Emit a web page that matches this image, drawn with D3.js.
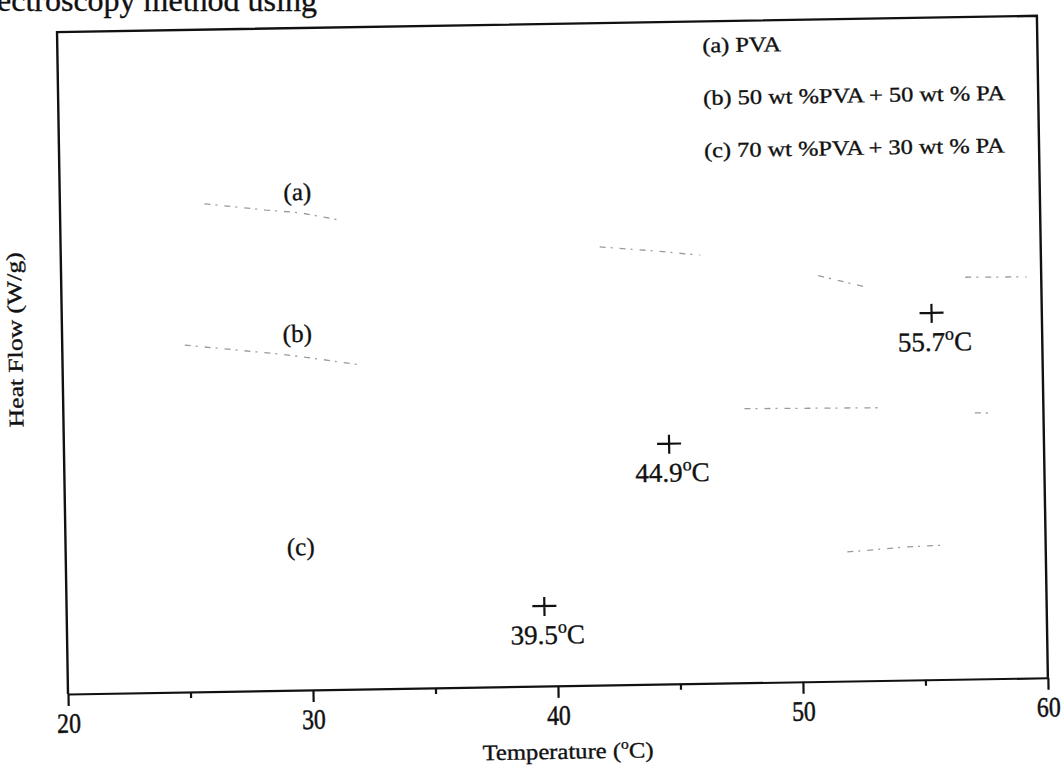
<!doctype html>
<html>
<head>
<meta charset="utf-8">
<style>
    body { margin: 0; background: #fff; }
    svg { display: block; font-family: "Liberation Serif", "DejaVu Serif", serif; }
    .frame { fill: none; stroke: #111; stroke-width: 2.4; }
    .axis path, .axis line { stroke: #111; stroke-width: 2.2; }
    .axis text { fill: #111; stroke: #111; stroke-width: 0.5; font-family: "Liberation Serif", serif; font-size: 28px; }
    .ink { fill: #111; stroke: #111; stroke-width: 0.35; }
    .curve { fill: none; stroke: #9a9a9a; stroke-width: 1.3; stroke-dasharray: 6 5 2 7; }
    .mark { fill: none; stroke: #111; stroke-width: 2.2; }
</style>
<script src="https://cdn.jsdelivr.net/npm/d3@7"></script>
</head>
<body>
<svg width="1061" height="766"></svg>
<script>

// temperature axis
var majorTicks = [20, 30, 40, 50, 60];
var minorTicks = [25, 35, 45, 55];

// DSC traces as far as they survive in the scan (null = faded gap)
var tempA = [25.9, 28.4, 29.8, 31.4, 36.0, 42.0, 44.1, 46.1, 48.5, 50.9, 52.8, 54.8, 56.9, 59.4];
var flowA = [7.37, 7.26, 7.21, 7.09, null, 6.62, 6.55, 6.47, null, 6.13, 5.95, null, 6.07, 6.06];
var tempB = [25.0, 28.9, 30.4, 32.1, 40.0, 47.8, 50.5, 53.5, 55.5, 57.2, 58.0];
var flowB = [5.24, 5.08, 5.00, 4.90, null, 4.14, 4.13, 4.12, null, 4.02, 4.01];
var tempC = [48.1, 50.0, 51.9, 54.3, 55.9, 57.5, 58.8];
var flowC = [1.91, null, 1.95, 2.01, 2.03, null, 1.95];

// curve tags
var curveTags = ["(a)", "(b)", "(c)"];
var tagTemp = [29.7, 29.6, 29.6];
var tagFlow = [7.40, 5.26, 2.04];

// peak markers
var peakTemp = [55.5, 44.7, 39.5];
var peakFlow = [5.54, 3.63, 1.21];
var peakLabel = ["55.7", "44.9", "39.5"];

// legend
var legendItems = ["(a) PVA", "(b) 50 wt %PVA + 50 wt % PA", "(c) 70 wt %PVA + 30 wt % PA"];

var svg = d3.select("svg");

// cut-off line of page text above the figure
svg.append("text")
   .attr("class", "ink")
   .attr("x", -3)
   .attr("y", 11)
   .attr("font-size", "32px")
   .text("ectroscopy method using");

var width = 980,
    height = 662;

// the scanned page is slightly tilted
var g = svg.append("g")
           .attr("transform", "translate(68,694) rotate(-0.95)");

var x = d3.scaleLinear().domain([20, 60]).range([0, width]);
var y = d3.scaleLinear().domain([0, 10]).range([0, -height]);

// box (left, top, right)
g.append("path")
 .attr("class", "frame")
 .attr("d", "M0,0V" + (-height) + "H" + width + "V0");

// bottom axis, major + minor ticks
g.append("g")
 .attr("class", "axis")
 .call(d3.axisBottom(x).tickValues(majorTicks).tickSize(12).tickSizeOuter(0).tickPadding(7).tickFormat(d3.format("d")))
 .selectAll("text")
 .attr("transform", "scale(0.85,1)");

g.append("g")
 .attr("class", "axis")
 .call(d3.axisBottom(x).tickValues(minorTicks).tickSize(6).tickSizeOuter(0).tickFormat(""))
 .select(".domain").remove();

// axis titles
var xt = g.append("text")
          .attr("class", "ink")
          .attr("transform", "translate(499,73) scale(1.12,1)")
          .attr("text-anchor", "middle")
          .attr("font-size", "22px");
xt.append("tspan").text("Temperature (");
xt.append("tspan").attr("font-size", "14px").attr("dy", -9).text("o");
xt.append("tspan").attr("dy", 9).text("C)");

g.append("text")
 .attr("class", "ink")
 .attr("transform", "translate(-40,-355) rotate(-90) scale(1.22,1)")
 .attr("text-anchor", "middle")
 .attr("font-size", "21px")
 .text("Heat Flow (W/g)");

// faint traces
var line = d3.line()
             .defined(function(d) { return d[1] != null; })
             .x(function(d) { return x(d[0]); })
             .y(function(d) { return y(d[1]); });

[[tempA, flowA], [tempB, flowB], [tempC, flowC]].forEach(function(s) {
    g.append("path")
     .attr("class", "curve")
     .attr("d", line(d3.zip(s[0], s[1])));
});

// curve tags
g.selectAll(".tag")
 .data(curveTags)
 .enter().append("text")
 .attr("class", "tag ink")
 .attr("x", function(d, i) { return x(tagTemp[i]); })
 .attr("y", function(d, i) { return y(tagFlow[i]); })
 .attr("text-anchor", "middle")
 .attr("font-size", "25px")
 .text(function(d) { return d; });

// peak crosses and labels
var peaks = g.selectAll(".peak")
             .data(peakLabel)
             .enter().append("g")
             .attr("class", "peak")
             .attr("transform", function(d, i) { return "translate(" + x(peakTemp[i]) + "," + y(peakFlow[i]) + ")"; });

peaks.append("path")
     .attr("class", "mark")
     .attr("d", "M-12,0H12M0,-9V10");

var pl = peaks.append("text")
              .attr("class", "ink")
              .attr("y", 38)
              .attr("x", 3)
              .attr("text-anchor", "middle")
              .attr("font-size", "27px");
pl.append("tspan").text(function(d) { return d; });
pl.append("tspan").attr("font-size", "18px").attr("dy", -11).text("o");
pl.append("tspan").attr("dy", 11).text("C");

// legend
g.selectAll(".legend")
 .data(legendItems)
 .enter().append("text")
 .attr("class", "legend ink")
 .attr("transform", function(d, i) { return "translate(645," + (-631 + i * 52.5) + ") scale(1.16,1)"; })
 .attr("font-size", "21px")
 .text(function(d) { return d; });

</script>
</body>
</html>
